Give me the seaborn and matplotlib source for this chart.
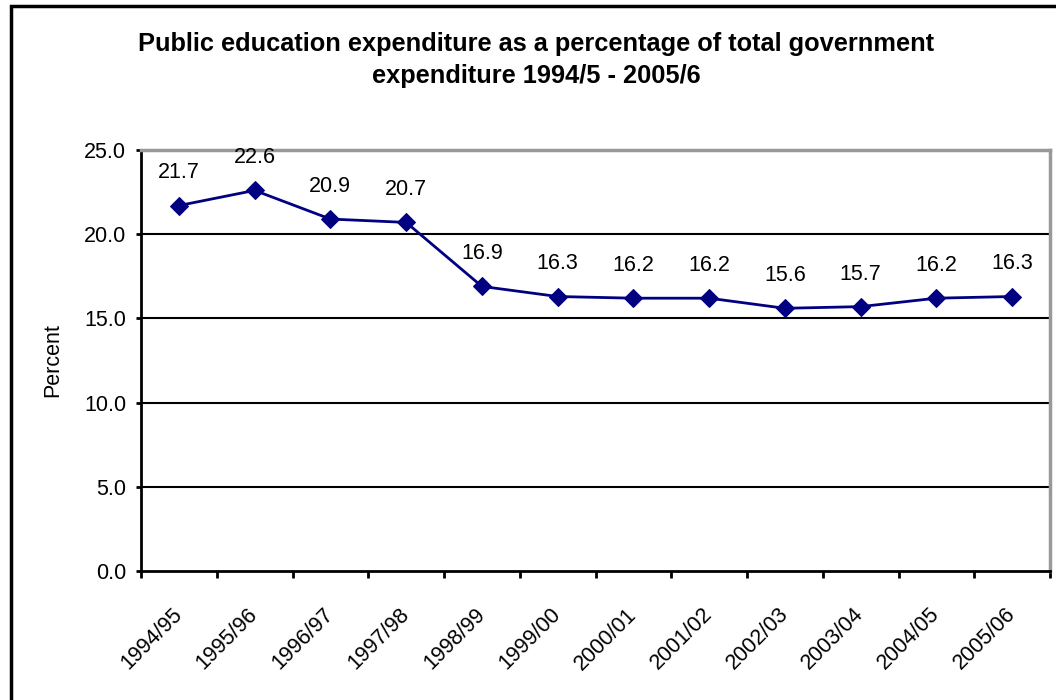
import matplotlib
matplotlib.use("Agg")
import matplotlib.pyplot as plt
from matplotlib.patches import Rectangle
from matplotlib.transforms import ScaledTranslation
import seaborn as sns
import pandas as pd
import numpy as np

years = ["1994/95", "1995/96", "1996/97", "1997/98", "1998/99", "1999/00",
         "2000/01", "2001/02", "2002/03", "2003/04", "2004/05", "2005/06"]
percent = [21.7, 22.6, 20.9, 20.7, 16.9, 16.3, 16.2, 16.2, 15.6, 15.7, 16.2, 16.3]
y_ticks = [0.0, 5.0, 10.0, 15.0, 20.0, 25.0]

sns.set_style("white")
plt.rcParams["font.family"] = ["Liberation Sans", "DejaVu Sans"]
plt.rcParams["text.color"] = "black"
plt.rcParams["axes.labelcolor"] = "black"
plt.rcParams["xtick.color"] = "black"
plt.rcParams["ytick.color"] = "black"

df = pd.DataFrame({"pos": np.arange(len(years)), "year": years, "percent": percent})

fig = plt.figure(figsize=(10.56, 7.0), dpi=100)
W, H = 1056, 700
ax = fig.add_axes([141 / W, 1 - 571 / H, (1050 - 141) / W, (571 - 150) / H])

sns.lineplot(data=df, x="pos", y="percent", ax=ax, color="#000080", linewidth=2,
             marker="D", markersize=9, markeredgecolor="#000080", zorder=5)

for xi, v in zip(df["pos"], df["percent"]):
    ax.annotate(f"{v:.1f}", (xi, v), xytext=(0, 19.5), textcoords="offset points",
                ha="center", va="baseline", fontsize=15.5, color="black")

ax.set_xlim(-0.5, len(years) - 0.5)
ax.set_ylim(0, 25)
ax.set_yticks(y_ticks)
ax.set_yticklabels([f"{t:.1f}" for t in y_ticks], fontsize=15.5)
ax.set_xticks(np.arange(len(years)))
ax.set_xticklabels(years, rotation=45, ha="right", va="center",
                   rotation_mode="anchor", fontsize=15.5)
shift = ScaledTranslation(-10 / 100, 0, fig.dpi_scale_trans)
for lbl in ax.get_xticklabels():
    lbl.set_transform(lbl.get_transform() + shift)
ax.set_xticks(np.arange(len(years) + 1) - 0.5, minor=True)
ax.tick_params(axis="x", which="major", length=0, pad=29)
ax.tick_params(axis="x", which="minor", length=5, width=2, direction="out",
               color="black", bottom=True)
ax.tick_params(axis="y", length=3.6, width=2, direction="out", color="black",
               left=True, pad=7)

for t in [5, 10, 15, 20]:
    ax.axhline(t, color="black", linewidth=1.5, zorder=1)

ax.set_xlabel("")
ax.set_ylabel("Percent", fontsize=15.5)
ax.yaxis.set_label_coords((63 - 141) / 909, 0.5)

ax.spines["left"].set_color("black")
ax.spines["left"].set_linewidth(2)
ax.spines["bottom"].set_color("black")
ax.spines["bottom"].set_linewidth(2)
ax.spines["top"].set_color("#999999")
ax.spines["top"].set_linewidth(2.5)
ax.spines["right"].set_color("#999999")
ax.spines["right"].set_linewidth(2.5)

fig.text(536 / W, 1 - 60 / H,
         "Public education expenditure as a percentage of total government\nexpenditure 1994/5 - 2005/6",
         ha="center", va="center", fontsize=18.3, fontweight="bold", linespacing=1.45,
         color="black")

# outer chart frame
fig.patches.append(Rectangle((11 / W, -0.05), 1.2, 1 - 6 / H + 0.05,
                             transform=fig.transFigure, fill=False,
                             edgecolor="black", linewidth=2.5))

fig.savefig("out.png", dpi=100)
